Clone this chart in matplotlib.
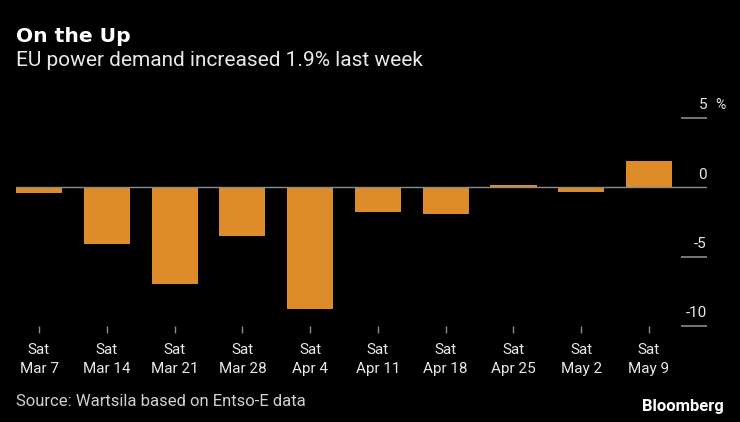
import matplotlib.pyplot as plt
import numpy as np

# weekly change in EU power demand, %
weeks = ['Mar 7', 'Mar 14', 'Mar 21', 'Mar 28', 'Apr 4',
         'Apr 11', 'Apr 18', 'Apr 25', 'May 2', 'May 9']
change = [-0.4, -4.1, -7.0, -3.5, -8.8, -1.75, -1.9, 0.2, -0.3, 1.9]
yticks = [5, 0, -5, -10]

BG = 'black'
BAR = '#DE8C2A'
TXT = '#E8E8E8'
GRID = '#8C8C8C'

plt.rcParams['font.family'] = ['Roboto', 'DejaVu Sans']

fig = plt.figure(figsize=(7.4, 4.22), dpi=100, facecolor=BG)
ax = fig.add_axes([16 / 740, 96 / 422, 691 / 740, 216.3 / 422])
ax.set_facecolor(BG)

x = np.arange(len(weeks))
ax.bar(x, change, width=0.68, color=BAR, zorder=2)

ax.set_xlim(-0.34, len(weeks) - 1 + 0.855)
ax.set_ylim(-10, 5.6)

# zero line across the full width
ax.axhline(0, color=GRID, lw=1.0, zorder=3)

# right-side y labels with short rules underneath
xr = ax.get_xlim()[1]
for v in yticks:
    if v != 0:
        ax.hlines(v, len(weeks) - 1 + 0.47, xr, color=GRID, lw=1.2, clip_on=False)
    ax.annotate(str(v), (xr, v), xytext=(0, 4),
                textcoords='offset points', ha='right', va='bottom',
                color=TXT, fontsize=11, annotation_clip=False)
ax.annotate('%', (xr, 5), xytext=(6, 4), textcoords='offset points',
            ha='left', va='bottom', color=TXT, fontsize=10,
            annotation_clip=False)

ax.set_yticks([])
ax.set_xticks(x)
ax.set_xticklabels(['Sat\n' + w for w in weeks], color=TXT, fontsize=11,
                   linespacing=1.45)
ax.tick_params(axis='x', length=5, width=1, color=GRID, pad=7)
for s in ax.spines.values():
    s.set_visible(False)

fig.text(16 / 740, 1 - 36 / 422, 'On the Up', color='white', fontsize=14.6,
         fontweight='bold', va='center', family=['DejaVu Sans'])
fig.text(16 / 740, 1 - 61 / 422, 'EU power demand increased 1.9% last week',
         color=TXT, fontsize=15, va='center')
fig.text(16 / 740, 1 - 401 / 422, 'Source: Wartsila based on Entso-E data',
         color='#D0D0D0', fontsize=12, va='center')
fig.text(724 / 740, 1 - 407 / 422, 'Bloomberg', color='white', fontsize=12,
         fontweight='bold', ha='right', va='center')

fig.savefig('out.png', dpi=100, facecolor=BG)
